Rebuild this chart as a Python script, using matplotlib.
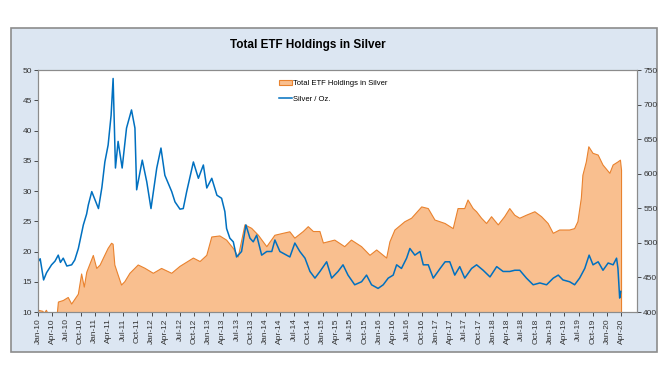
import matplotlib
matplotlib.use("Agg")
import matplotlib.pyplot as plt
import matplotlib.dates as mdates
from matplotlib.patches import Rectangle, Patch
from matplotlib.lines import Line2D
import pandas as pd

plt.rcParams['font.family'] = ['Liberation Sans', 'DejaVu Sans']

# ---- data ----
silver_dates = [
    "2010-01-01", "2010-01-15", "2010-02-06", "2010-02-25", "2010-03-29", "2010-04-20",
    "2010-05-11", "2010-05-25", "2010-06-12", "2010-07-05", "2010-08-05", "2010-08-25",
    "2010-09-17", "2010-10-19", "2010-11-09", "2010-11-20", "2010-12-12", "2011-01-24",
    "2011-02-15", "2011-03-06", "2011-03-27", "2011-04-15", "2011-04-28", "2011-05-13",
    "2011-05-30", "2011-06-25", "2011-07-23", "2011-08-24", "2011-09-15", "2011-09-26",
    "2011-11-01", "2011-11-30", "2011-12-27", "2012-02-02", "2012-02-29", "2012-03-25",
    "2012-05-08", "2012-05-29", "2012-06-30", "2012-07-21", "2012-08-12", "2012-09-24",
    "2012-10-26", "2012-11-27", "2012-12-19", "2013-01-20", "2013-02-22", "2013-03-24",
    "2013-04-14", "2013-04-25", "2013-05-16", "2013-06-07", "2013-06-28", "2013-07-30",
    "2013-08-27", "2013-09-22", "2013-10-13", "2013-11-04", "2013-12-06", "2014-01-08",
    "2014-02-09", "2014-03-01", "2014-04-02", "2014-05-14", "2014-06-05", "2014-07-07",
    "2014-08-08", "2014-09-10", "2014-10-12", "2014-11-13", "2014-12-15", "2015-01-27",
    "2015-02-28", "2015-04-10", "2015-05-12", "2015-06-13", "2015-07-26", "2015-09-08",
    "2015-10-10", "2015-11-11", "2015-12-23", "2016-01-25", "2016-02-26", "2016-03-29",
    "2016-04-20", "2016-05-21", "2016-06-23", "2016-07-14", "2016-08-15", "2016-09-17",
    "2016-10-08", "2016-11-09", "2016-12-11", "2017-01-24", "2017-02-25", "2017-03-27",
    "2017-04-28", "2017-05-30", "2017-07-01", "2017-08-14", "2017-09-15", "2017-10-27",
    "2017-12-10", "2018-01-22", "2018-03-04", "2018-04-16", "2018-05-18", "2018-06-19",
    "2018-08-01", "2018-09-13", "2018-10-26", "2018-12-08", "2019-01-20", "2019-02-21",
    "2019-03-23", "2019-05-05", "2019-06-06", "2019-07-08", "2019-08-10", "2019-09-07",
    "2019-10-02", "2019-11-04", "2019-12-05", "2020-01-07", "2020-02-08", "2020-03-01",
    "2020-03-10", "2020-03-21", "2020-03-28",
]
silver_price = [
    18.3, 18.8, 15.3, 16.5, 17.8, 18.4,
    19.4, 18.2, 18.9, 17.6, 17.8, 18.6,
    20.5, 24.4, 26.2, 27.7, 29.9, 27.1,
    30.6, 34.8, 37.6, 42.5, 48.6, 33.8,
    38.2, 33.8, 40.4, 43.4, 40.4, 30.2,
    35.1, 31.5, 27.1, 33.8, 37.1, 32.6,
    29.9, 28.2, 27.0, 27.1, 29.9, 34.8,
    32.1, 34.3, 30.5, 32.1, 29.3, 28.8,
    26.6, 23.8, 22.2, 21.6, 19.1, 20.0,
    24.4, 22.2, 21.6, 22.7, 19.4, 20.0,
    20.0, 21.9, 20.0, 19.4, 19.1, 21.4,
    20.0, 18.9, 16.7, 15.6, 16.7, 18.3,
    15.6, 16.7, 17.8, 16.1, 14.5, 15.0,
    16.1, 14.5, 13.9, 14.5, 15.6, 16.1,
    17.8, 17.2, 18.9, 20.5, 19.4, 20.0,
    17.8, 17.8, 15.6, 17.2, 18.3, 18.3,
    16.1, 17.5, 15.6, 17.2, 17.8, 16.9,
    15.8, 17.5, 16.7, 16.7, 16.9, 16.9,
    15.6, 14.5, 14.8, 14.5, 15.6, 16.1,
    15.3, 15.0, 14.5, 15.6, 17.2, 19.4,
    17.8, 18.3, 16.9, 18.1, 17.8, 18.9,
    17.2, 12.3, 13.4,
]

etf_dates = [
    "2010-01-01", "2010-02-01", "2010-02-10", "2010-02-24", "2010-03-05", "2010-05-05",
    "2010-05-12", "2010-06-12", "2010-07-14", "2010-08-05", "2010-09-17", "2010-10-08",
    "2010-10-25", "2010-11-10", "2010-12-22", "2011-01-13", "2011-02-04", "2011-02-25",
    "2011-03-27", "2011-04-18", "2011-04-28", "2011-05-09", "2011-05-30", "2011-06-21",
    "2011-07-12", "2011-08-14", "2011-10-06", "2011-11-18", "2012-01-11", "2012-03-04",
    "2012-05-08", "2012-06-30", "2012-09-24", "2012-11-06", "2012-12-19", "2013-01-20",
    "2013-03-13", "2013-04-25", "2013-06-07", "2013-07-09", "2013-08-21", "2013-10-03",
    "2013-11-15", "2014-01-08", "2014-03-01", "2014-04-23", "2014-06-05", "2014-07-07",
    "2014-08-30", "2014-10-01", "2014-11-03", "2014-12-15", "2015-01-06", "2015-03-20",
    "2015-05-23", "2015-07-05", "2015-09-08", "2015-11-01", "2015-12-14", "2016-02-16",
    "2016-03-08", "2016-04-09", "2016-06-12", "2016-07-25", "2016-09-28", "2016-11-09",
    "2016-12-22", "2017-02-25", "2017-04-18", "2017-05-19", "2017-07-01", "2017-07-22",
    "2017-08-24", "2017-09-15", "2017-10-17", "2017-11-18", "2017-12-20", "2018-02-01",
    "2018-03-14", "2018-04-16", "2018-05-18", "2018-06-19", "2018-08-01", "2018-09-24",
    "2018-11-06", "2018-12-18", "2019-01-20", "2019-03-02", "2019-05-05", "2019-06-06",
    "2019-06-27", "2019-07-19", "2019-07-29", "2019-08-20", "2019-09-05", "2019-10-02",
    "2019-11-04", "2019-12-05", "2020-01-18", "2020-02-08", "2020-03-10", "2020-03-26",
    "2020-04-02",
]
etf_holdings = [
    402.6, 401.0, 398.0, 402.5, 398.0, 398.0,
    414.4, 416.6, 421.0, 411.5, 425.8, 455.0,
    436.0, 457.5, 481.8, 463.0, 468.0, 478.0,
    492.0, 499.4, 498.0, 468.0, 453.6, 439.0,
    443.8, 456.0, 468.0, 463.3, 456.0, 463.0,
    456.0, 466.0, 478.0, 473.0, 482.0, 508.5,
    510.0, 504.0, 492.0, 479.6, 526.0, 521.0,
    511.0, 494.5, 511.0, 513.8, 516.0, 506.8,
    516.4, 523.4, 516.4, 516.4, 499.8, 504.0,
    494.5, 504.0, 494.5, 482.0, 489.7, 478.0,
    501.5, 518.6, 530.6, 535.6, 552.0, 549.6,
    533.0, 528.0, 520.6, 549.6, 549.6, 562.0,
    549.6, 545.0, 535.6, 528.0, 537.8, 526.0,
    537.8, 549.6, 540.0, 535.6, 540.0, 545.0,
    537.8, 528.0, 513.8, 518.6, 518.6, 520.6,
    530.6, 564.6, 597.8, 617.0, 639.0, 629.5,
    627.0, 612.6, 600.6, 612.6, 617.0, 619.6,
    605.0,
]

tick_dates = pd.date_range("2010-01-01", "2020-04-01", freq="QS")
left_ticks = [10, 15, 20, 25, 30, 35, 40, 45, 50]
right_ticks = [400, 450, 500, 550, 600, 650, 700, 750]

sd = pd.to_datetime(silver_dates)
ed = pd.to_datetime(etf_dates)

fig = plt.figure(figsize=(6.7, 3.77), dpi=100)
fig.patches.append(Rectangle((0.0164, 0.0663), 0.9642, 0.8594, transform=fig.transFigure,
                             facecolor="#dce6f2", edgecolor="#8c8c8c", linewidth=1.2, zorder=-5))

ax = fig.add_axes([0.0567, 0.1724, 0.894, 0.6419])
ax2 = ax.twinx()
ax.set_zorder(2)
ax2.set_zorder(1)
ax.patch.set_visible(False)
ax2.patch.set_visible(True)
ax2.patch.set_facecolor("white")

# ETF area on the right axis
ax2.fill_between(ed, 0, etf_holdings, color="#f9bf8f", linewidth=0, zorder=1)
ax2.plot(list(ed) + [ed[-1]], etf_holdings + [0], color="#e9822e", linewidth=0.8, zorder=2)
ax2.set_ylim(400, 750)
ax2.set_yticks(right_ticks)

# silver price on the left axis
ax.plot(sd, silver_price, color="#0070c0", linewidth=1.1)
ax.set_ylim(10, 50)
ax.set_yticks(left_ticks)

ax.set_xlim(pd.Timestamp("2010-01-01"), pd.Timestamp("2020-07-10"))
ax.set_xticks(tick_dates)
ax.xaxis.set_major_formatter(mdates.DateFormatter("%b-%y"))
for lab in ax.get_xticklabels():
    lab.set_rotation(90)

for a in (ax, ax2):
    a.tick_params(labelsize=6, colors="#333333", length=3, width=0.6, pad=1.5)
    for s in a.spines.values():
        s.set_color("#8c8c8c")
        s.set_linewidth(0.8)

handles = [Patch(facecolor="#f9bf8f", edgecolor="#e9822e", linewidth=0.8),
           Line2D([0], [0], color="#0070c0", linewidth=1.1)]
ax.legend(handles, ["Total ETF Holdings in Silver", "Silver / Oz."], loc="upper left",
          bbox_to_anchor=(0.398, 0.97), frameon=False, fontsize=5.5, handlelength=1.6,
          handleheight=0.5, handletextpad=0.15, labelspacing=1.1, borderaxespad=0)

fig.text(0.46, 0.881, "Total ETF Holdings in Silver", ha="center", va="center",
         fontsize=8.5, fontweight="bold")

fig.savefig("out.png", dpi=100)
